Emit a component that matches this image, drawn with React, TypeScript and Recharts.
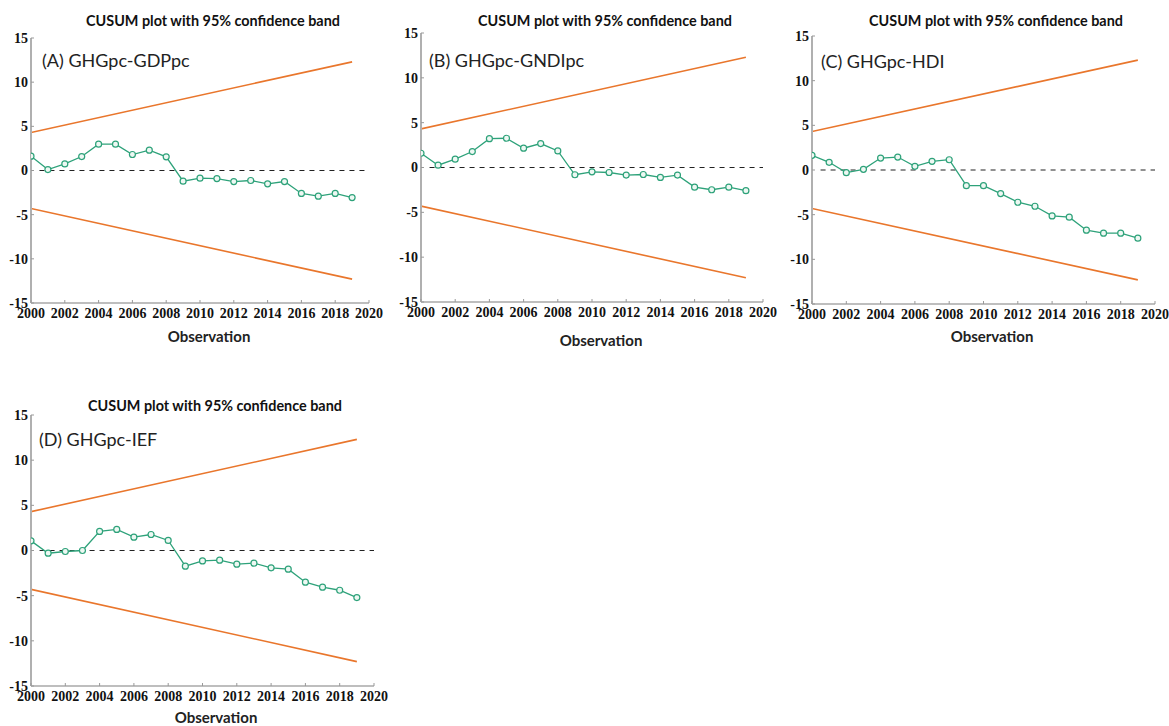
import React from "react";
import { LineChart, Line, XAxis, YAxis, ReferenceLine } from "recharts";

const years = [2000, 2001, 2002, 2003, 2004, 2005, 2006, 2007, 2008, 2009, 2010, 2011, 2012, 2013, 2014, 2015, 2016, 2017, 2018, 2019];
const cusumA = [1.62, 0.11, 0.75, 1.58, 2.98, 2.98, 1.81, 2.3, 1.55, -1.21, -0.87, -0.91, -1.25, -1.13, -1.51, -1.25, -2.6, -2.91, -2.6, -3.06];
const cusumB = [1.59, 0.26, 0.93, 1.78, 3.22, 3.26, 2.15, 2.67, 1.85, -0.81, -0.48, -0.56, -0.85, -0.78, -1.11, -0.85, -2.19, -2.48, -2.19, -2.59];
const cusumC = [1.64, 0.86, -0.3, 0.07, 1.34, 1.45, 0.41, 0.97, 1.15, -1.75, -1.75, -2.64, -3.61, -4.06, -5.14, -5.28, -6.74, -7.07, -7.07, -7.63];
const cusumD = [1.07, -0.3, -0.11, 0.0, 2.11, 2.33, 1.48, 1.77, 1.11, -1.74, -1.15, -1.07, -1.51, -1.4, -1.92, -2.07, -3.51, -4.06, -4.4, -5.21];

const bandYears = [2000, 2019];
const upperBand = [4.3, 12.3];
const lowerBand = [-4.3, -12.3];

const xTicks = [2000, 2002, 2004, 2006, 2008, 2010, 2012, 2014, 2016, 2018, 2020];
const yTicks = [-15, -10, -5, 0, 5, 10, 15];
const zeroStart = 2000.5;
const zeroEnd = 2020;

const titleText = "CUSUM plot with 95% confidence band";
const xLabelText = "Observation";

const panels = [
  { name: "(A) GHGpc-GDPpc", values: cusumA, box: { l: 31, t: 38, r: 369, b: 303 }, title: { x: 213, y: 20 }, label: { x: 42, y: 60 }, obs: { x: 209, y: 336 } },
  { name: "(B) GHGpc-GNDIpc", values: cusumB, box: { l: 421, t: 33, r: 763, b: 302 }, title: { x: 605, y: 20 }, label: { x: 429, y: 60 }, obs: { x: 601, y: 340 } },
  { name: "(C) GHGpc-HDI", values: cusumC, box: { l: 812, t: 36, r: 1155, b: 304 }, title: { x: 996, y: 20 }, label: { x: 821, y: 61 }, obs: { x: 992, y: 336 } },
  { name: "(D) GHGpc-IEF", values: cusumD, box: { l: 31, t: 415, r: 374, b: 686 }, title: { x: 215, y: 405 }, label: { x: 39, y: 439 }, obs: { x: 216, y: 717 } },
];

const GREEN = "#2ea27a";
const ORANGE = "#e9762c";
const TICKFONT = "'Liberation Serif', 'Times New Roman', serif";
const SANS = "Lato, 'Open Sans', sans-serif";

const XTick = (props: any) => {
  const { x, y, payload } = props;
  return (
    <g>
      <line x1={x} x2={x} y1={y} y2={y - 3} stroke="#999" strokeWidth={1} />
      <text x={x} y={y + 5} dy="0.71em" textAnchor="middle" fontFamily={TICKFONT} fontWeight="bold" fontSize={14} fill="#111">
        {payload.value}
      </text>
    </g>
  );
};

const YTick = (props: any) => {
  const { x, y, payload } = props;
  return (
    <g>
      <line x1={x} x2={x + 3} y1={y} y2={y} stroke="#999" strokeWidth={1} />
      <text x={x - 3} y={y} dy="0.355em" textAnchor="end" fontFamily={TICKFONT} fontWeight="bold" fontSize={14} fill="#111">
        {payload.value}
      </text>
    </g>
  );
};

const YAXW = 40;
const MT = 10;
const MR = 20;
const XAXH = 30;

function Panel({ p }: { p: (typeof panels)[number] }) {
  const data = years.map((yr, i) => ({ year: yr, v: p.values[i] }));
  const up = bandYears.map((yr, i) => ({ year: yr, v: upperBand[i] }));
  const lo = bandYears.map((yr, i) => ({ year: yr, v: lowerBand[i] }));
  const { l, t, r, b } = p.box;
  const width = r - l + YAXW + MR;
  const height = b - t + MT + XAXH;
  return (
    <>
      <div style={{ position: "absolute", left: l - YAXW, top: t - MT }}>
        <LineChart width={width} height={height} data={data} margin={{ top: MT, right: MR, left: 0, bottom: 0 }}>
          <XAxis
            dataKey="year"
            type="number"
            domain={[2000, 2020]}
            ticks={xTicks}
            allowDataOverflow
            height={XAXH}
            tickSize={0}
            tickMargin={0}
            tickLine={false}
            axisLine={{ stroke: "#a8a8a8", strokeWidth: 1.5 }}
            tick={(tp: any) => <XTick {...tp} />}
            interval={0}
          />
          <YAxis
            type="number"
            domain={[-15, 15]}
            ticks={yTicks}
            width={YAXW}
            tickSize={0}
            tickMargin={0}
            tickLine={false}
            axisLine={{ stroke: "#b0b0b0", strokeWidth: 2 }}
            tick={(tp: any) => <YTick {...tp} />}
            interval={0}
          />
          <ReferenceLine
            segment={[{ x: zeroStart, y: 0 }, { x: zeroEnd, y: 0 }]}
            stroke="#222"
            strokeWidth={1.2}
            strokeDasharray="5 5"
            ifOverflow="visible"
          />
          <Line data={up} dataKey="v" stroke={ORANGE} strokeWidth={1.6} dot={false} isAnimationActive={false} type="linear" />
          <Line data={lo} dataKey="v" stroke={ORANGE} strokeWidth={1.6} dot={false} isAnimationActive={false} type="linear" />
          <Line
            dataKey="v"
            stroke={GREEN}
            strokeWidth={1.3}
            type="linear"
            dot={{ r: 3, stroke: GREEN, strokeWidth: 1.2, fill: "#eef8f3" }}
            isAnimationActive={false}
          />
        </LineChart>
      </div>
      <div style={{ position: "absolute", left: p.title.x, top: p.title.y, transform: "translate(-50%, -50%)", whiteSpace: "nowrap", fontFamily: SANS, fontWeight: "bold", fontSize: 14.4, color: "#111" }}>
        {titleText}
      </div>
      <div style={{ position: "absolute", left: p.label.x, top: p.label.y, transform: "translate(0, -50%)", whiteSpace: "nowrap", fontFamily: SANS, fontSize: 18, color: "#222" }}>
        {p.name}
      </div>
      <div style={{ position: "absolute", left: p.obs.x, top: p.obs.y, transform: "translate(-50%, -50%)", whiteSpace: "nowrap", fontFamily: SANS, fontWeight: "bold", fontSize: 15, color: "#222" }}>
        {xLabelText}
      </div>
    </>
  );
}

export default function App() {
  return (
    <div style={{ position: "absolute", left: 0, top: 0, width: 1169, height: 726, background: "#fff", overflow: "hidden" }}>
      {panels.map((p) => (
        <Panel key={p.name} p={p} />
      ))}
    </div>
  );
}
